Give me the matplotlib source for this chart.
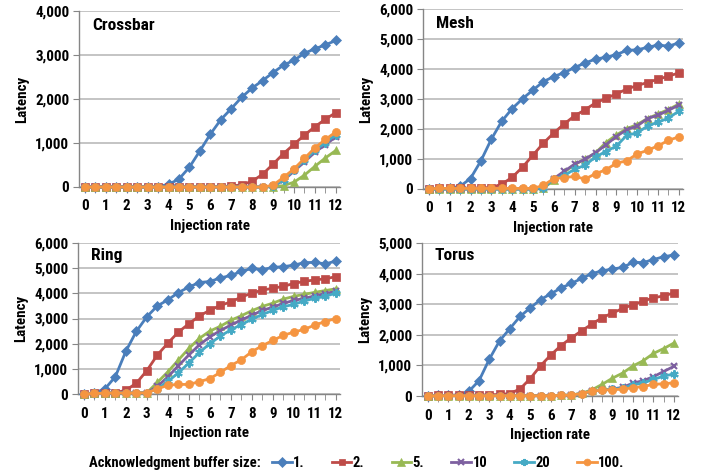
import matplotlib
matplotlib.use("Agg")
import matplotlib.pyplot as plt
from matplotlib.lines import Line2D

plt.rcParams['font.family'] = ['Roboto Condensed', 'Liberation Sans', 'DejaVu Sans']
plt.rcParams['font.weight'] = 'bold'

x = [0, 0.5, 1, 1.5, 2, 2.5, 3, 3.5, 4, 4.5, 5, 5.5, 6, 6.5, 7, 7.5, 8, 8.5, 9, 9.5, 10, 10.5, 11, 11.5, 12]
series_labels = ["1.", "2.", "5.", "10", "20", "100."]

crossbar_1 = [0, 0, 0, 0, 0, 0, 0, 10, 60, 180, 450, 820, 1200, 1530, 1780, 2040, 2250, 2420, 2600, 2770, 2880, 3040, 3140, 3230, 3330]
crossbar_2 = [5, 5, 5, 5, 5, 5, 5, 5, 5, 5, 5, 5, 5, 10, 20, 50, 130, 290, 520, 760, 970, 1180, 1370, 1540, 1690]
crossbar_5 = [0, 0, 0, 0, 0, 0, 0, 0, 0, 0, 0, 0, 0, 0, 0, 0, 0, 0, 10, 30, 110, 270, 470, 660, 830]
crossbar_10 = [0, 0, 0, 0, 0, 0, 0, 0, 0, 0, 0, 0, 0, 0, 0, 0, 0, 0, 20, 150, 360, 570, 790, 960, 1140]
crossbar_20 = [0, 0, 0, 0, 0, 0, 0, 0, 0, 0, 0, 0, 0, 0, 0, 0, 0, 0, 20, 170, 390, 610, 830, 1010, 1190]
crossbar_100 = [0, 0, 0, 0, 0, 0, 0, 0, 0, 0, 0, 0, 0, 0, 0, 0, 0, 0, 40, 220, 410, 650, 890, 1080, 1250]

mesh_1 = [0, 20, 20, 90, 350, 940, 1660, 2260, 2680, 3010, 3300, 3580, 3750, 3880, 4050, 4200, 4330, 4390, 4480, 4620, 4640, 4720, 4800, 4760, 4870]
mesh_2 = [10, 20, 20, 30, 30, 40, 50, 160, 390, 730, 1130, 1530, 1870, 2170, 2440, 2640, 2870, 3020, 3170, 3330, 3450, 3550, 3660, 3760, 3870]
mesh_5 = [0, 0, 0, 0, 0, 0, 0, 0, 0, 0, 0, 20, 300, 560, 820, 1000, 1200, 1550, 1800, 2010, 2150, 2350, 2500, 2650, 2830]
mesh_10 = [0, 0, 0, 0, 0, 0, 0, 0, 0, 0, 0, 30, 350, 590, 830, 990, 1210, 1470, 1750, 1980, 2100, 2350, 2460, 2620, 2800]
mesh_20 = [0, 0, 0, 0, 0, 0, 0, 0, 0, 0, 0, 50, 330, 450, 660, 790, 1070, 1250, 1430, 1790, 1870, 2100, 2230, 2360, 2600]
mesh_100 = [10, 20, 20, 20, 20, 20, 20, 20, 20, 20, 20, 120, 350, 380, 420, 330, 510, 640, 860, 940, 1170, 1290, 1440, 1620, 1740]

ring_1 = [0, 50, 200, 690, 1700, 2490, 3070, 3500, 3740, 4030, 4250, 4430, 4470, 4610, 4710, 4870, 4990, 4940, 5030, 5060, 5120, 5220, 5230, 5170, 5280]
ring_2 = [0, 20, 30, 50, 150, 430, 930, 1550, 2020, 2460, 2790, 3100, 3330, 3520, 3660, 3850, 4010, 4130, 4200, 4280, 4390, 4480, 4530, 4580, 4660]
ring_5 = [0, 20, 30, 40, 40, 40, 50, 460, 880, 1350, 1810, 2210, 2500, 2690, 2930, 3110, 3310, 3480, 3610, 3770, 3880, 3960, 4040, 4110, 4180]
ring_10 = [0, 20, 30, 40, 40, 40, 50, 300, 680, 1120, 1550, 1950, 2270, 2520, 2740, 2940, 3130, 3320, 3450, 3600, 3720, 3800, 3900, 3990, 4080]
ring_20 = [0, 20, 30, 40, 40, 40, 50, 200, 500, 840, 1230, 1650, 2000, 2300, 2550, 2760, 2970, 3160, 3320, 3470, 3560, 3700, 3800, 3880, 4010]
ring_100 = [0, 20, 30, 40, 40, 40, 50, 200, 350, 380, 380, 490, 610, 860, 1130, 1360, 1680, 1920, 2130, 2330, 2460, 2570, 2740, 2880, 3000]

torus_1 = [0, 20, 20, 30, 150, 500, 1200, 1800, 2200, 2600, 2880, 3150, 3340, 3530, 3680, 3840, 4000, 4090, 4150, 4200, 4370, 4360, 4460, 4550, 4610]
torus_2 = [0, 20, 20, 30, 30, 30, 40, 50, 80, 230, 570, 990, 1340, 1650, 1900, 2130, 2350, 2560, 2710, 2860, 2980, 3100, 3210, 3270, 3370]
torus_5 = [0, 10, 10, 10, 10, 10, 10, 10, 10, 10, 10, 10, 10, 20, 30, 90, 200, 380, 580, 750, 980, 1150, 1390, 1550, 1730]
torus_10 = [0, 10, 10, 10, 10, 10, 10, 10, 10, 10, 10, 10, 10, 20, 30, 80, 160, 200, 230, 280, 420, 500, 630, 800, 970]
torus_20 = [0, 10, 10, 10, 10, 10, 10, 10, 10, 10, 10, 10, 10, 20, 30, 80, 160, 200, 220, 250, 360, 430, 540, 650, 720]
torus_100 = [0, 10, 10, 10, 10, 10, 10, 10, 10, 10, 10, 10, 10, 20, 30, 80, 160, 190, 210, 220, 270, 310, 380, 400, 430]

panels = [
    ("Crossbar", [crossbar_1, crossbar_2, crossbar_5, crossbar_10, crossbar_20, crossbar_100], 4000, [0, 1000, 2000, 3000, 4000]),
    ("Mesh", [mesh_1, mesh_2, mesh_5, mesh_10, mesh_20, mesh_100], 6000, [0, 1000, 2000, 3000, 4000, 5000, 6000]),
    ("Ring", [ring_1, ring_2, ring_5, ring_10, ring_20, ring_100], 6000, [0, 1000, 2000, 3000, 4000, 5000, 6000]),
    ("Torus", [torus_1, torus_2, torus_5, torus_10, torus_20, torus_100], 5000, [0, 1000, 2000, 3000, 4000, 5000]),
]

colors = ["#4A7EBB", "#BE4B48", "#98B954", "#7D60A0", "#46AAC5", "#F59541"]
markers = ["D", "s", "^", "x", (6, 2, 0), "o"]
msizes = [5.5, 5.5, 6, 5, 6, 5.8]

W, H = 704, 474
boxes = [(79, 340, 11, 187), (423, 683, 9, 189), (78, 340, 243, 394), (422, 678, 243, 396)]

fig = plt.figure(figsize=(W / 100, H / 100), dpi=100)

def mew_for(m):
    return 1.5 if (m == "x" or isinstance(m, tuple)) else 0.5

for (name, data, ymax, yt), (l, r, t, b) in zip(panels, boxes):
    ax = fig.add_axes([l / W, 1 - b / H, (r - l) / W, (b - t) / H])
    for vals, c, m, ms in zip(data, colors, markers, msizes):
        ax.plot(x, vals, color=c, lw=2, marker=m, ms=ms, mew=mew_for(m), mec=c, clip_on=False, zorder=3)
    ax.set_xlim(-0.28, 12.2)
    ax.set_ylim(0, ymax)
    ax.set_yticks(yt)
    ax.set_yticklabels([f"{v:,}" for v in yt])
    ax.set_xticks(range(0, 13))
    ax.set_xticks(x, minor=True)
    ax.grid(axis="y", color="#BFBFBF", lw=1.3)
    ax.set_axisbelow(True)
    for s in ("top", "right"):
        ax.spines[s].set_visible(False)
    for s in ("left", "bottom"):
        ax.spines[s].set_color("#868686")
        ax.spines[s].set_linewidth(1.0)
    ax.tick_params(axis="y", length=4, color="#868686", labelsize=10.8, pad=3)
    ax.tick_params(axis="x", which="both", length=4, color="#868686", labelsize=10.8, pad=5)
    ax.set_ylabel("Latency", fontsize=10.8, fontweight="bold", labelpad=4)
    ax.set_xlabel("Injection rate", fontsize=10.8, fontweight="bold", labelpad=4)
    ax.text(0.05, 0.92, name, transform=ax.transAxes, fontsize=12.5, fontweight="bold", va="center", ha="left")

fig.text(89 / W, 1 - 463 / H, "Acknowledgment buffer size:", fontsize=10.5, fontweight="bold", va="center", ha="left")
handles = [Line2D([0], [0], color=c, lw=2, marker=m, ms=ms * 0.85, mew=mew_for(m), mec=c)
           for c, m, ms in zip(colors, markers, msizes)]
fig.legend(handles, series_labels, ncol=6, loc="center left", bbox_to_anchor=(272 / W, 1 - 463 / H),
           frameon=False, fontsize=10.5, handlelength=1.35, handletextpad=0.1, columnspacing=1.85,
           borderaxespad=0, borderpad=0)

fig.savefig("out.png", dpi=100)
